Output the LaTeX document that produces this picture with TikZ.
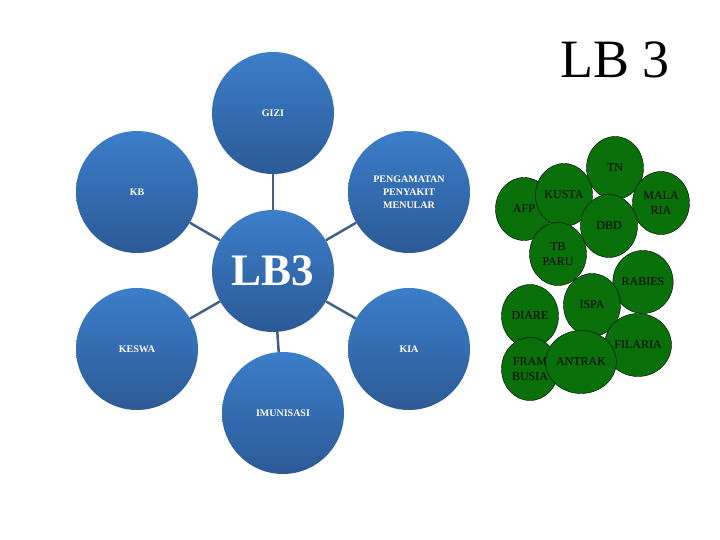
\documentclass[tikz,border=0pt]{standalone}
\usepackage{fontspec}
\setmainfont{Liberation Serif}
\usepackage{tikz}
\usetikzlibrary{shapes,shapes.geometric}

\definecolor{bluetop}{RGB}{60,126,202}
\definecolor{bluebot}{RGB}{44,90,150}
\definecolor{linkblue}{RGB}{64,96,138}
\definecolor{leafgreen}{RGB}{10,112,10}

\begin{document}
\begin{tikzpicture}[x=1pt, y=-1pt,
	bluecirc/.style={circle, minimum size=122, inner sep=0, top color=bluetop, bottom color=bluebot, text=white, font=\fontsize{10}{13}\selectfont\bfseries, align=center},
	greencirc/.style={ellipse, draw=black, fill=leafgreen, minimum width=57, minimum height=63, inner sep=0, font=\fontsize{12}{15}\selectfont, align=center},
	link/.style={draw=linkblue, line width=2.5}
]
\useasboundingbox (0,0) rectangle (720,540);

\node (title) at (615,60) {\fontsize{54}{60}\selectfont LB 3};

\node[bluecirc] (gizi) at (273,113) {GIZI};
\node[bluecirc] (kb) at (137,192) {KB};
\node[bluecirc] (pengamatan) at (409,192) {PENGAMATAN\\PENYAKIT\\MENULAR};
\node[bluecirc, font=\fontsize{45}{48}\selectfont\bfseries] (lbtiga) at (273,271) {LB3};
\node[bluecirc] (keswa) at (137,349) {KESWA};
\node[bluecirc] (kia) at (409,349) {KIA};
\node[bluecirc] (imunisasi) at (283,413) {IMUNISASI};

\draw[link] (lbtiga) -- (gizi);
\draw[link] (lbtiga) -- (kb);
\draw[link] (lbtiga) -- (pengamatan);
\draw[link] (lbtiga) -- (keswa);
\draw[link] (lbtiga) -- (kia);
\draw[link] (lbtiga) -- (imunisasi);

\node[greencirc] (tn) at (615,168) {TN};
\node[greencirc] (malaria) at (661,203) {MALA\\RIA};
\node[greencirc] (afp) at (524,209) {AFP};
\node[greencirc] (kusta) at (564,195) {KUSTA};
\node[greencirc] (dbd) at (609,226) {DBD};
\node[greencirc] (tbparu) at (558,254) {TB\\PARU};
\node[greencirc] (rabies) at (643,282) {RABIES};
\node[greencirc] (ispa) at (592,305) {ISPA};
\node[greencirc] (diare) at (530,316) {DIARE};
\node[greencirc] (filaria) at (638,345) {FILARIA};
\node[greencirc] (frambusia) at (530,369) {FRAM\\BUSIA};
\node[greencirc] (antrak) at (581,362) {ANTRAK};
\end{tikzpicture}
\end{document}
